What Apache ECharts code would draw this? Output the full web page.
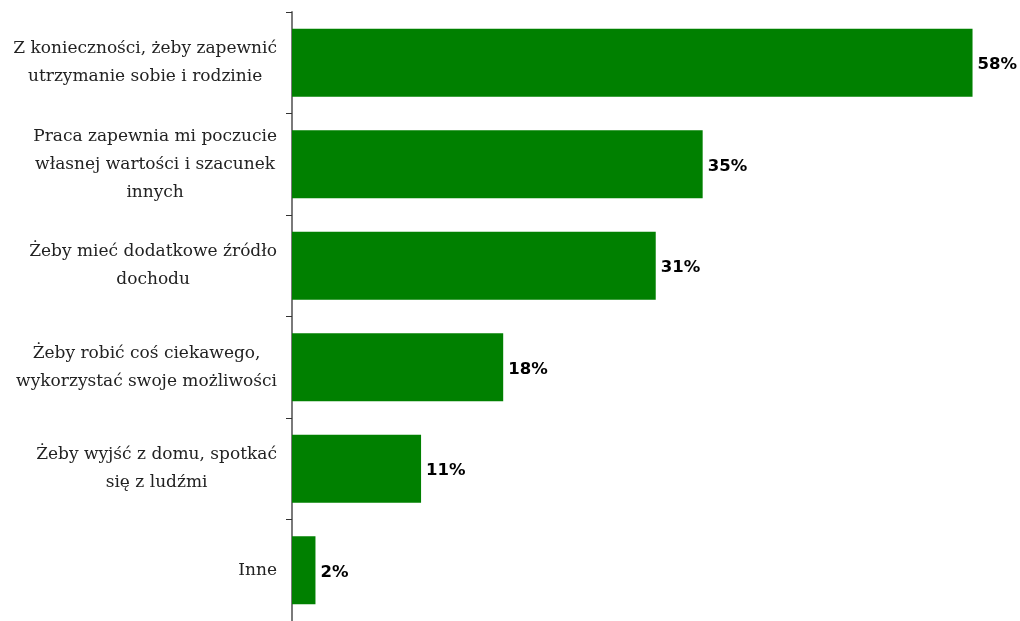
<!DOCTYPE html>
<html>
<head>
<meta charset="utf-8">
<script src="https://cdn.jsdelivr.net/npm/echarts@6/dist/echarts.min.js"></script>
<style>
  html, body { margin: 0; padding: 0; background: #fff; }
  #chart { width: 1020px; height: 621px; }
</style>
</head>
<body>
<div id="chart"></div>
<script>
// Reasons for working, share of respondents (%)
const categories = [
  'Z konieczności, żeby zapewnić\nutrzymanie sobie i rodzinie',
  'Praca zapewnia mi poczucie\nwłasnej wartości i szacunek\ninnych',
  'Żeby mieć dodatkowe źródło\ndochodu',
  'Żeby robić coś ciekawego,\nwykorzystać swoje możliwości',
  'Żeby wyjść z domu, spotkać\nsię z ludźmi',
  'Inne'
];
const values = [58, 35, 31, 18, 11, 2];

const chart = echarts.init(document.getElementById('chart'), null, { renderer: 'canvas' });

chart.setOption({
  backgroundColor: '#ffffff',
  animation: false,
  grid: { left: 292, top: 12, width: 704, height: 612, containLabel: false },
  xAxis: {
    type: 'value',
    min: 0,
    max: 60,
    show: false
  },
  yAxis: {
    type: 'category',
    data: categories,
    inverse: true,
    axisLine: { show: true, lineStyle: { color: '#7a7a7a', width: 2 } },
    axisTick: { show: true, length: 6, lineStyle: { color: '#333333', width: 1 } },
    axisLabel: {
      margin: 15,
      formatter: function (v) {
        // centre every line inside the label block
        return v.split('\n').map(function (s) { return '{c|' + s + '}'; }).join('\n');
      },
      rich: {
        c: {
          align: 'center',
          fontFamily: 'DejaVu Serif',
          fontSize: 17,
          lineHeight: 28,
          color: '#222222'
        }
      }
    }
  },
  series: [{
    type: 'bar',
    data: values,
    barWidth: 68,
    itemStyle: { color: '#008000' },
    label: {
      show: true,
      position: 'right',
      distance: 5,
      offset: [0, 2],
      formatter: '{c}%',
      fontFamily: 'DejaVu Sans',
      fontWeight: 'bold',
      fontSize: 16.5,
      color: '#000000'
    }
  }]
});
</script>
</body>
</html>
